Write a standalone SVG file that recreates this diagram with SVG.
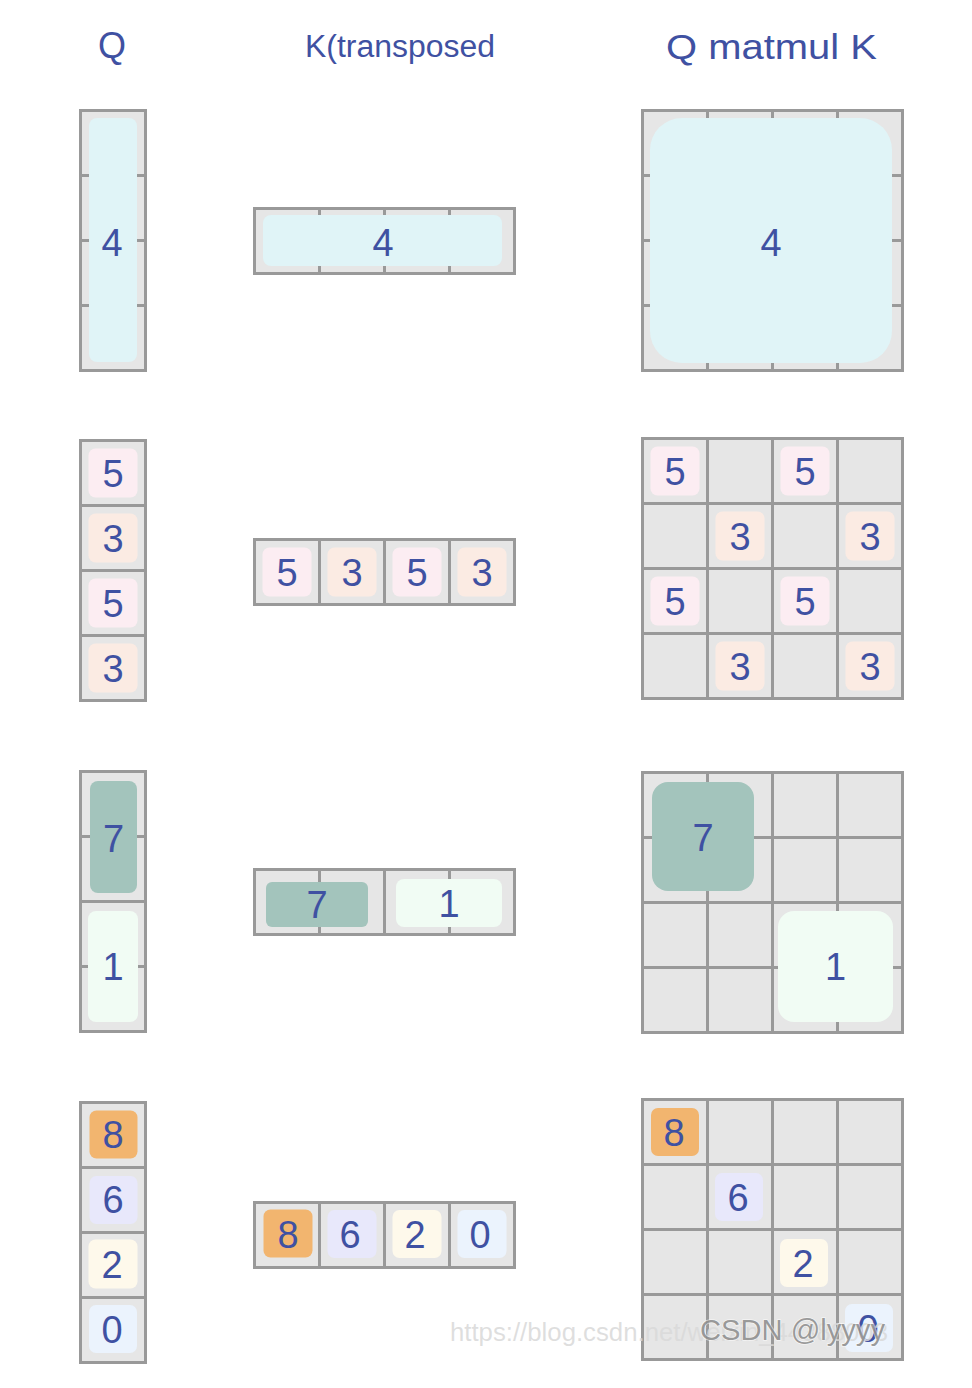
<svg xmlns="http://www.w3.org/2000/svg" width="972" height="1388" viewBox="0 0 972 1388">
<style>
.bg{fill:#e6e6e6;stroke:#999999;stroke-width:3}
.ln{stroke:#999999;stroke-width:3;fill:none}
.t{font-family:"Liberation Sans",Arial,sans-serif;font-size:38px;fill:#3f51a2;text-anchor:middle}
.h{font-family:"Liberation Sans",Arial,sans-serif;fill:#3f51a2}
.cy{fill:#e0f4f7}.pk{fill:#fcedf2}.pc{fill:#fbebe3}.tl{fill:#a3c4bc}.mt{fill:#f1fcf4}
.or{fill:#f2b56f}.lv{fill:#e8e8fb}.cr{fill:#fef9eb}.lb{fill:#ebf3fd}
</style>
<rect width="972" height="1388" fill="#ffffff"/>
<g id="titles">
<text class="h" x="112" y="58" font-size="36" text-anchor="middle">Q</text>
<text class="h" x="305" y="57" font-size="31" textLength="190" lengthAdjust="spacingAndGlyphs">K(transposed</text>
<text class="h" x="666" y="59" font-size="35" textLength="211" lengthAdjust="spacingAndGlyphs">Q matmul K</text>
</g>

<g id="connectors"></g>

<!-- Row 1 -->
<g id="q1">
<rect class="bg" x="80.5" y="110.5" width="65" height="260"/>
<path class="ln" d="M80.5 175.5H145.5M80.5 240.5H145.5M80.5 305.5H145.5"/>
<rect class="cy" x="89" y="118" width="48" height="244" rx="8"/>
<text class="t" x="112" y="256">4</text>
</g>
<g id="k1">
<rect class="bg" x="254.5" y="208.5" width="260" height="65"/>
<path class="ln" d="M319.5 208.5V273.5M384.5 208.5V273.5M449.5 208.5V273.5"/>
<rect class="cy" x="263" y="215" width="239" height="51" rx="8"/>
<text class="t" x="383" y="256">4</text>
</g>
<g id="m1">
<rect class="bg" x="642.5" y="110.5" width="260" height="260"/>
<path class="ln" d="M707.5 110.5V370.5M772.5 110.5V370.5M837.5 110.5V370.5M642.5 175.5H902.5M642.5 240.5H902.5M642.5 305.5H902.5"/>
<rect class="cy" x="650" y="118" width="242" height="245" rx="32"/>
<text class="t" x="771" y="256">4</text>
</g>

<!-- Row 2 -->
<g id="q2">
<rect class="bg" x="80.5" y="440.5" width="65" height="260"/>
<path class="ln" d="M80.5 505.5H145.5M80.5 570.5H145.5M80.5 635.5H145.5"/>
<rect class="pk" x="88.5" y="448.5" width="49" height="49" rx="7"/>
<rect class="pc" x="88.5" y="513.5" width="49" height="49" rx="7"/>
<rect class="pk" x="88.5" y="578.5" width="49" height="49" rx="7"/>
<rect class="pc" x="88.5" y="643.5" width="49" height="49" rx="7"/>
<text class="t" x="113" y="487">5</text>
<text class="t" x="113" y="552">3</text>
<text class="t" x="113" y="617">5</text>
<text class="t" x="113" y="682">3</text>
</g>
<g id="k2">
<rect class="bg" x="254.5" y="539.5" width="260" height="65"/>
<path class="ln" d="M319.5 539.5V604.5M384.5 539.5V604.5M449.5 539.5V604.5"/>
<rect class="pk" x="262.5" y="547.5" width="49" height="49" rx="7"/>
<rect class="pc" x="327.5" y="547.5" width="49" height="49" rx="7"/>
<rect class="pk" x="392.5" y="547.5" width="49" height="49" rx="7"/>
<rect class="pc" x="457.5" y="547.5" width="49" height="49" rx="7"/>
<text class="t" x="287" y="586">5</text>
<text class="t" x="352" y="586">3</text>
<text class="t" x="417" y="586">5</text>
<text class="t" x="482" y="586">3</text>
</g>
<g id="m2">
<rect class="bg" x="642.5" y="438.5" width="260" height="260"/>
<path class="ln" d="M707.5 438.5V698.5M772.5 438.5V698.5M837.5 438.5V698.5M642.5 503.5H902.5M642.5 568.5H902.5M642.5 633.5H902.5"/>
<rect class="pk" x="650.5" y="446.5" width="49" height="49" rx="7"/>
<rect class="pk" x="780.5" y="446.5" width="49" height="49" rx="7"/>
<rect class="pc" x="715.5" y="511.5" width="49" height="49" rx="7"/>
<rect class="pc" x="845.5" y="511.5" width="49" height="49" rx="7"/>
<rect class="pk" x="650.5" y="576.5" width="49" height="49" rx="7"/>
<rect class="pk" x="780.5" y="576.5" width="49" height="49" rx="7"/>
<rect class="pc" x="715.5" y="641.5" width="49" height="49" rx="7"/>
<rect class="pc" x="845.5" y="641.5" width="49" height="49" rx="7"/>
<text class="t" x="675" y="485">5</text>
<text class="t" x="805" y="485">5</text>
<text class="t" x="740" y="550">3</text>
<text class="t" x="870" y="550">3</text>
<text class="t" x="675" y="615">5</text>
<text class="t" x="805" y="615">5</text>
<text class="t" x="740" y="680">3</text>
<text class="t" x="870" y="680">3</text>
</g>

<!-- Row 3 -->
<g id="q3">
<rect class="bg" x="80.5" y="771.5" width="65" height="260"/>
<path class="ln" d="M80.5 836.5H145.5M80.5 901.5H145.5M80.5 966.5H145.5"/>
<rect class="tl" x="90" y="781" width="47" height="112" rx="8"/>
<rect class="mt" x="88" y="911" width="50" height="111" rx="8"/>
<text class="t" x="113.5" y="852">7</text>
<text class="t" x="113" y="980">1</text>
</g>
<g id="k3">
<rect class="bg" x="254.5" y="869.5" width="260" height="65"/>
<path class="ln" d="M319.5 869.5V934.5M384.5 869.5V934.5M449.5 869.5V934.5"/>
<rect class="tl" x="266" y="882" width="102" height="45" rx="6"/>
<rect class="mt" x="396" y="879" width="106" height="48" rx="8"/>
<text class="t" x="317" y="918">7</text>
<text class="t" x="449" y="917">1</text>
</g>
<g id="m3">
<rect class="bg" x="642.5" y="772.5" width="260" height="260"/>
<path class="ln" d="M707.5 772.5V1032.5M772.5 772.5V1032.5M837.5 772.5V1032.5M642.5 837.5H902.5M642.5 902.5H902.5M642.5 967.5H902.5"/>
<rect class="tl" x="652" y="782" width="102" height="109" rx="16"/>
<rect class="mt" x="778" y="911" width="115" height="111" rx="16"/>
<text class="t" x="703" y="851">7</text>
<text class="t" x="835.5" y="980">1</text>
</g>

<!-- Row 4 -->
<g id="q4">
<rect class="bg" x="80.5" y="1102.5" width="65" height="260"/>
<path class="ln" d="M80.5 1167.5H145.5M80.5 1232.5H145.5M80.5 1297.5H145.5"/>
<rect class="or" x="89.5" y="1110.5" width="48" height="48" rx="7"/>
<rect class="lv" x="89.5" y="1176" width="48" height="48" rx="7"/>
<rect class="cr" x="88.5" y="1239.5" width="49" height="49" rx="7"/>
<rect class="lb" x="89" y="1305" width="48" height="48" rx="7"/>
<text class="t" x="113" y="1148">8</text>
<text class="t" x="113" y="1213">6</text>
<text class="t" x="112" y="1278">2</text>
<text class="t" x="112" y="1343">0</text>
</g>
<g id="k4">
<rect class="bg" x="254.5" y="1202.5" width="260" height="65"/>
<path class="ln" d="M319.5 1202.5V1267.5M384.5 1202.5V1267.5M449.5 1202.5V1267.5"/>
<rect class="or" x="263.5" y="1209.5" width="49" height="48" rx="7"/>
<rect class="lv" x="327.5" y="1210" width="49" height="48" rx="7"/>
<rect class="cr" x="392.5" y="1210" width="49" height="48" rx="7"/>
<rect class="lb" x="457.5" y="1210" width="49" height="48" rx="7"/>
<text class="t" x="288" y="1248">8</text>
<text class="t" x="350" y="1248">6</text>
<text class="t" x="415" y="1248">2</text>
<text class="t" x="480" y="1248">0</text>
</g>
<g id="m4">
<rect class="bg" x="642.5" y="1099.5" width="260" height="260"/>
<path class="ln" d="M707.5 1099.5V1359.5M772.5 1099.5V1359.5M837.5 1099.5V1359.5M642.5 1164.5H902.5M642.5 1229.5H902.5M642.5 1294.5H902.5"/>
<rect class="or" x="651" y="1108" width="48" height="48" rx="7"/>
<rect class="lv" x="715" y="1173" width="48" height="48" rx="7"/>
<rect class="cr" x="780" y="1239" width="48" height="48" rx="7"/>
<rect class="lb" x="845" y="1304" width="48" height="48" rx="7"/>
<text class="t" x="674" y="1146">8</text>
<text class="t" x="738" y="1211">6</text>
<text class="t" x="803" y="1277">2</text>
<text class="t" x="868" y="1342">0</text>
</g>

<g id="watermark">
<text x="450" y="1341" font-family="'Liberation Sans',Arial,sans-serif" font-size="25" fill="#d9d9d9" fill-opacity="0.85" textLength="438" lengthAdjust="spacingAndGlyphs">https://blog.csdn.net/weixin_44388003</text>
<text x="700" y="1340" font-family="'Liberation Sans',Arial,sans-serif" font-size="30" fill="#8a8a8a" fill-opacity="0.85" stroke="#ffffff" stroke-width="1.5" stroke-opacity="0.6" paint-order="stroke" textLength="185" lengthAdjust="spacingAndGlyphs">CSDN @lyyyy</text>
</g>
</svg>
